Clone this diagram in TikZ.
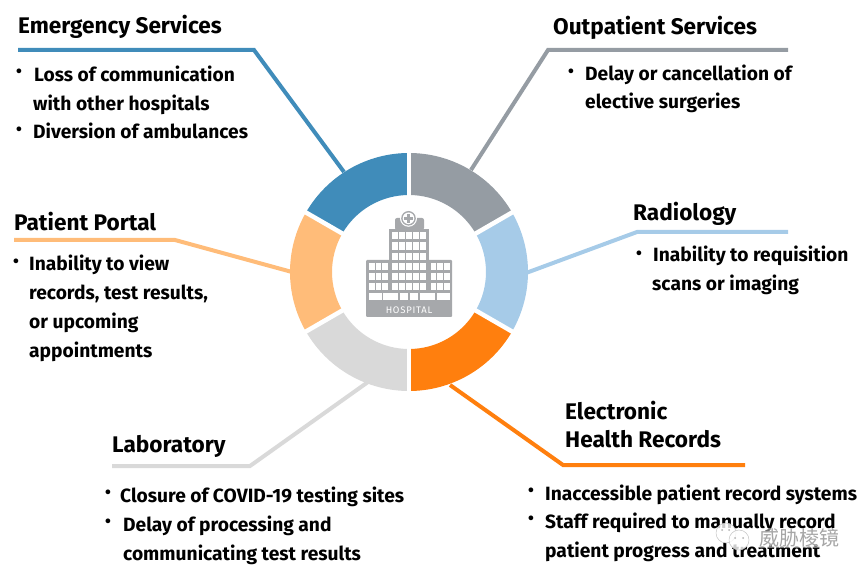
\documentclass[tikz,border=0pt]{standalone}
\usepackage{fontspec}
\setmainfont{Fira Sans}
\newfontfamily\cjk{Noto Sans CJK SC}
\newfontfamily\iconfont[LetterSpace=8]{Fira Sans}
\definecolor{segblue}{HTML}{408CBA}
\definecolor{seggray}{HTML}{959CA3}
\definecolor{segsky}{HTML}{A6CBE8}
\definecolor{segorange}{HTML}{FF7F0E}
\definecolor{segsilver}{HTML}{D9D9D9}
\definecolor{segpeach}{HTML}{FFBC79}
\definecolor{icongray}{HTML}{A6A8AB}
\tikzset{
  title/.style={anchor=base west,inner sep=0pt,yshift=-1.5pt,font=\fontsize{22.6}{26}\selectfont\bfseries},
  item/.style={anchor=base west,inner sep=0pt,yshift=-1pt,font=\fontsize{19.2}{22}\selectfont\bfseries},
  dot/.style={anchor=center,inner sep=0pt,yshift=-1pt,font=\fontsize{21}{22}\selectfont},
  leader/.style={line width=4pt},
  gap/.style={white,line width=4.5pt},
  pane/.style={fill=white},
  bubble/.style={draw=gray!45,line width=.5pt,fill=white,fill opacity=.8}
}
\begin{document}
\begin{tikzpicture}[x=1pt,y=-1pt]
  \useasboundingbox (0,0) rectangle (868,577);
  % leaders
  \coordinate (emergencyL) at (18,50);
  \coordinate (emergencyM) at (254,50);
  \coordinate (emergencyR) at (344,172);
  \coordinate (outpatientL) at (788,50);
  \coordinate (outpatientM) at (548,50);
  \coordinate (outpatientR) at (471,170);
  \coordinate (portalL) at (14,240);
  \coordinate (portalM) at (175,240);
  \coordinate (portalR) at (292,272);
  \coordinate (radiologyL) at (788,232);
  \coordinate (radiologyM) at (637,232);
  \coordinate (radiologyR) at (526,273);
  \coordinate (labL) at (112,466);
  \coordinate (labM) at (250,466);
  \coordinate (labR) at (368,382);
  \coordinate (recordsL) at (745,465);
  \coordinate (recordsM) at (563,465);
  \coordinate (recordsR) at (450,385);
  \draw[leader,segblue] (emergencyL) -- (emergencyM) -- (emergencyR);
  \draw[leader,seggray] (outpatientL) -- (outpatientM) -- (outpatientR);
  \draw[leader,segpeach] (portalL) -- (portalM) -- (portalR);
  \draw[leader,segsky] (radiologyL) -- (radiologyM) -- (radiologyR);
  \draw[leader,segsilver] (labL) -- (labM) -- (labR);
  \draw[leader,segorange] (recordsL) -- (recordsM) -- (recordsR);
  % ring
  \begin{scope}[shift={(409,272)}]
    \foreach \a/\c in {-150/segblue,-90/seggray,-30/segsky,30/segorange,90/segsilver,150/segpeach}
      \fill[\c] (\a:119) arc[start angle=\a,delta angle=60,radius=119] -- ({\a+60}:77) arc[start angle=\a+60,delta angle=-60,radius=77] -- cycle;
    \foreach \a in {-150,-90,...,150}
      \draw[gap] (\a:70) -- (\a:125);
  \end{scope}
  % hospital
  \fill[icongray,rounded corners=2pt] (395,230) -- (395,218) -- (424,218) -- (424,230) -- cycle;
  \fill[icongray] (389,229) rectangle (429,261);
  \fill[icongray,rounded corners=1pt] (366,260) rectangle (452,317);
  \fill[white] (408.5,218.3) circle (8.5);
  \fill[icongray] (408.5,218.3) circle (7.3);
  \fill[white] (408.5,218.3) circle (5.8);
  \fill[icongray] (407.2,213.8) rectangle (409.8,222.8);
  \fill[icongray] (404,217) rectangle (413,219.6);
  \foreach \r in {0,...,5}
    \foreach \c in {0,...,4}
      \fill[pane] ({392+\c*7},{232.3+\r*10.2}) rectangle +(6,7.2);
  \foreach \r in {3,4,5}
    \foreach \c in {0,1,2} {
      \fill[pane] ({369+\c*6.7},{232.3+\r*10.2}) rectangle +(5.6,7.2);
      \fill[pane] ({430.5+\c*6.9},{232.3+\r*10.2}) rectangle +(5.6,7.2);
    }
  \foreach \a/\b in {369/381.7,383/398,400/408,409.5/417.5,420/435,437/450}
    \fill[pane] (\a,293.3) rectangle (\b,300);
  \node[anchor=center,inner sep=0pt,white,font=\iconfont\fontsize{9.5}{11}\selectfont] (hospital) at (409,310.3) {HOSPITAL};
  % emergency
  \node[title] (emergency) at (18,32) {Emergency Services};
  \node[dot] (emergencyA) at (19,73) {•};
  \node[item] (emergencyB) at (34,81) {Loss of communication};
  \node[item] (emergencyC) at (33,110) {with other hospitals};
  \node[dot] (emergencyD) at (19,131) {•};
  \node[item] (emergencyE) at (33,138) {Diversion of ambulances};
  % outpatient
  \node[title] (outpatient) at (553,33) {Outpatient Services};
  \node[dot] (outpatientA) at (571,73) {•};
  \node[item] (outpatientB) at (585,80) {Delay or cancellation of};
  \node[item] (outpatientC) at (585,108) {elective surgeries};
  % portal
  \node[title] (portal) at (14,229) {Patient Portal};
  \node[dot] (portalA) at (16,263) {•};
  \node[item] (portalB) at (29,270) {Inability to view};
  \node[item] (portalC) at (29,299) {records, test results,};
  \node[item] (portalD) at (29,328) {or upcoming};
  \node[item] (portalE) at (29,357) {appointments};
  % radiology
  \node[title] (radiology) at (633,219) {Radiology};
  \node[dot] (radiologyA) at (639,255) {•};
  \node[item] (radiologyB) at (653,261) {Inability to requisition};
  \node[item] (radiologyC) at (652,290) {scans or imaging};
  % lab
  \node[title] (lab) at (112,451) {Laboratory};
  \node[dot] (labA) at (108,494) {•};
  \node[item] (labB) at (120,501) {Closure of COVID-19 testing sites};
  \node[dot] (labC) at (108,523) {•};
  \node[item] (labD) at (123,530) {Delay of processing and};
  \node[item] (labE) at (123,559) {communicating test results};
  % records
  \node[title] (recordsT) at (565,418) {Electronic};
  \node[title] (records) at (565,446) {Health Records};
  \node[dot] (recordsA) at (531,492) {•};
  \node[item] (recordsB) at (545,499) {Inaccessible patient record systems};
  \node[dot] (recordsC) at (531,520) {•};
  \node[item] (recordsD) at (545,527) {Staff required to manually record};
  \node[item] (recordsE) at (545,556) {patient progress and treatment};
  % watermark
  \fill[bubble] (726,533) circle (10);
  \fill[bubble,draw] (739,540) circle (10);
  \foreach \x/\y in {722/530,729/530,735/538,743/538}
    \fill[gray!60] (\x,\y) circle (1);
  \node[anchor=center,inner sep=1pt,fill=white,fill opacity=.45,text opacity=1,text=gray!70,font=\cjk\fontsize{20}{22}\selectfont] (mark) at (799,538) {威胁棱镜};
\end{tikzpicture}
\end{document}
